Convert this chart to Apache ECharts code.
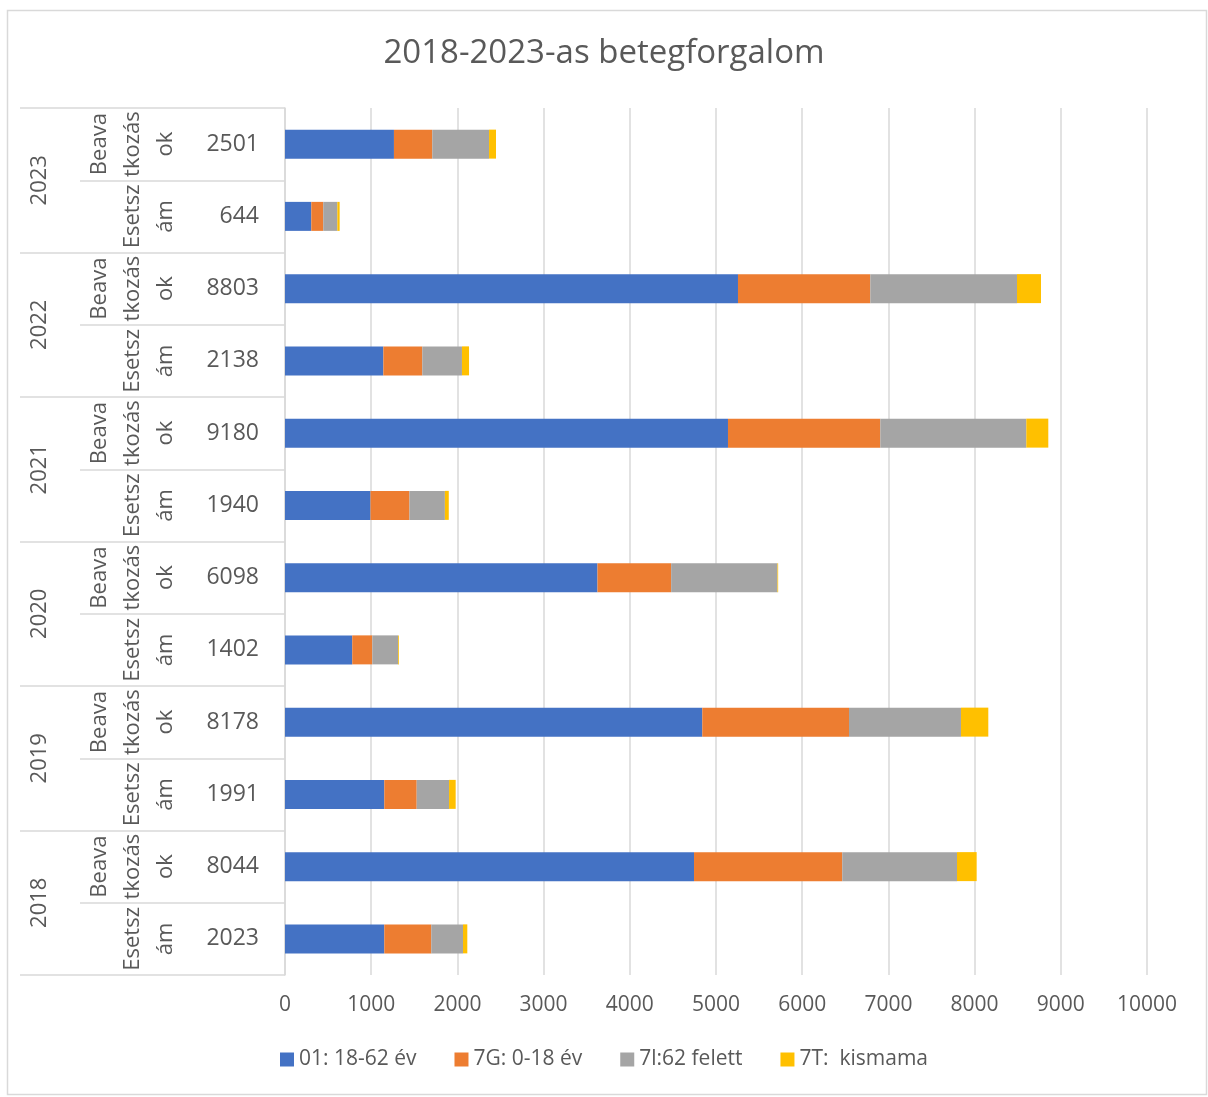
<!DOCTYPE html>
<html>
<head>
<meta charset="utf-8">
<script src="https://cdn.jsdelivr.net/npm/echarts@6/dist/echarts.min.js"></script>
<style>
  html, body { margin: 0; padding: 0; background: #fff; }
  #chart { width: 1208px; height: 1097px; }
</style>
</head>
<body>
<div id="chart"></div>
<script>
// Categories, bottom to top
const years = ['2018', '2019', '2020', '2021', '2022', '2023'];
const subTypes = ['Esetszám', 'Beavatkozások', 'Esetszám', 'Beavatkozások', 'Esetszám', 'Beavatkozások',
                  'Esetszám', 'Beavatkozások', 'Esetszám', 'Beavatkozások', 'Esetszám', 'Beavatkozások'];
const totals = ['2023', '8044', '1991', '8178', '1402', '6098', '1940', '9180', '2138', '8803', '644', '2501'];

// Series values (same order as categories)
const seriesNames = ['01: 18-62 év', '7G: 0-18 év', '7l:62 felett', '7T:  kismama'];
const adult   = [1152, 4745, 1152, 4841, 780, 3625, 992, 5139, 1141, 5255, 305, 1264];
const child   = [545, 1720, 376, 1702, 233, 855, 452, 1767, 452, 1535, 139, 445];
const senior  = [368, 1331, 375, 1299, 300, 1233, 411, 1694, 460, 1702, 163, 658];
const mother  = [50, 228, 77, 317, 9, 8, 45, 255, 82, 278, 27, 81];

// Value axis ticks
const xMin = 0, xMax = 10000, xStep = 1000;

const wrapped = { 'Esetszám': 'Esetsz\nám', 'Beavatkozások': 'Beava\ntkozás\nok' };

const FONT = '"Open Sans", "Noto Sans", sans-serif';
const TXT = '#595959';
const GRID = '#d9d9d9';
const colors = ['#4472C4', '#ED7D31', '#A5A5A5', '#FFC000'];

const chart = echarts.init(document.getElementById('chart'));
const values = [adult, child, senior, mother];

chart.setOption({
  animation: false,
  textStyle: { fontFamily: FONT },
  color: colors,
  title: {
    text: '2018-2023-as betegforgalom',
    left: 'center',
    top: 32,
    textStyle: { fontSize: 33, fontWeight: 'normal', color: TXT, fontFamily: FONT }
  },
  graphic: [{
    type: 'rect',
    shape: { x: 7.5, y: 10.5, width: 1199, height: 1084 },
    style: { fill: 'none', stroke: GRID, lineWidth: 1.5 },
    silent: true,
    z: -10
  }],
  legend: {
    bottom: 22,
    left: 'center',
    icon: 'rect',
    itemWidth: 14,
    itemHeight: 14,
    itemGap: 38,
    textStyle: { fontSize: 21, color: TXT, fontFamily: FONT },
    data: seriesNames
  },
  grid: { left: 285, right: 61, top: 108, bottom: 122, containLabel: false },
  xAxis: {
    type: 'value',
    min: xMin, max: xMax, interval: xStep,
    axisLine: { show: false },
    axisTick: { show: false },
    splitLine: { show: true, lineStyle: { color: GRID, width: 1.5 } },
    axisLabel: {
      fontSize: 21, color: TXT, margin: 20, fontFamily: FONT,
      formatter: function (v) { return String(v); }
    }
  },
  yAxis: [
    {
      type: 'category',
      position: 'left',
      data: totals,
      axisLine: { show: true, lineStyle: { color: GRID, width: 1.5 } },
      axisTick: { show: true, length: 205, interval: 0, lineStyle: { color: GRID, width: 1.5 } },
      axisLabel: { interval: 0, fontSize: 23, color: TXT, margin: 26, fontFamily: FONT },
      splitLine: { show: false }
    },
    {
      type: 'category',
      position: 'left',
      data: years,
      axisLine: { show: false },
      axisTick: { show: true, length: 265, interval: 0, lineStyle: { color: GRID, width: 1.5 } },
      axisLabel: { interval: 0, rotate: 90, fontSize: 22, color: TXT, margin: 234, fontFamily: FONT },
      splitLine: { show: false }
    },
    {
      type: 'category',
      position: 'left',
      data: subTypes,
      axisLine: { show: false },
      axisTick: { show: false },
      axisLabel: {
        interval: 0, rotate: 90, fontSize: 22, color: TXT, margin: 103, lineHeight: 33,
        fontFamily: FONT,
        formatter: function (v) { return wrapped[v] || v; }
      },
      splitLine: { show: false }
    }
  ],
  series: seriesNames.map(function (name, i) {
    return {
      name: name,
      type: 'bar',
      stack: 'total',
      yAxisIndex: 0,
      barWidth: 29,
      data: values[i],
      itemStyle: { color: colors[i] }
    };
  })
});
</script>
</body>
</html>
